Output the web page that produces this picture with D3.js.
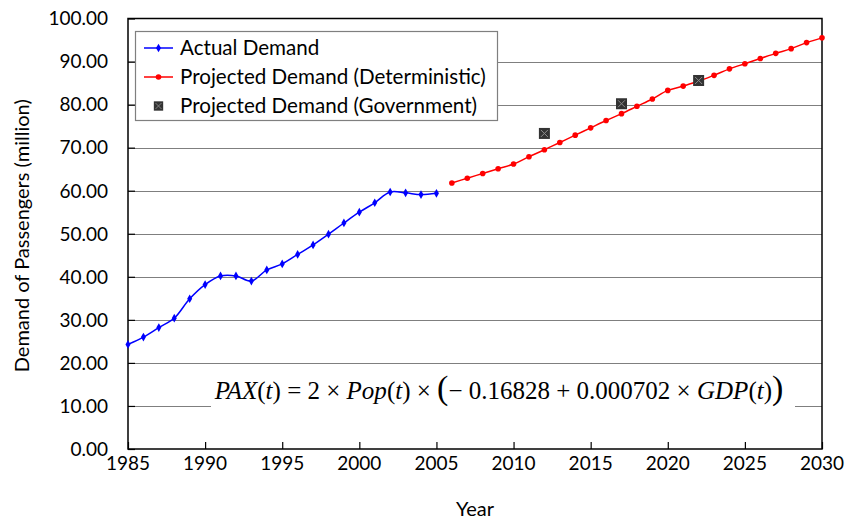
<!DOCTYPE html>
<html>
<head>
<meta charset="utf-8">
<script src="https://cdn.jsdelivr.net/npm/d3@7"></script>
<style>
  body { margin: 0; background: #fff; }
  svg { display: block; }
</style>
</head>
<body>
<div id="chart"></div>
<script>
// Data
//////////////////////////////////////////////////////////////////////
const actualYears = d3.range(1985, 2006);
const actualValues = [24.3, 26.0, 28.2, 30.4, 34.9, 38.2, 40.2, 40.2, 39.0, 41.6,
  43.0, 45.2, 47.4, 49.9, 52.5, 55.0, 57.2, 59.7, 59.5, 59.1, 59.4];

const projYears = d3.range(2006, 2031);
const projValues = [61.8, 62.9, 64.0, 65.1, 66.2, 67.9, 69.5, 71.2, 72.9, 74.6,
  76.3, 77.9, 79.6, 81.3, 83.3, 84.3, 85.5, 86.8, 88.3, 89.5,
  90.7, 91.9, 93.0, 94.4, 95.5];

const govYears = [2012, 2017, 2022];
const govValues = [73.3, 80.2, 85.6];

const xTicks = d3.range(1985, 2031, 5);
const yTicks = d3.range(0, 101, 10);

const legendLabels = ["Actual Demand", "Projected Demand (Deterministic)", "Projected Demand (Government)"];

// Layout
//////////////////////////////////////////////////////////////////////
const width = 849, height = 520;
const margin = { top: 18.5, right: 27, bottom: 71, left: 128 };
const font = "Lato, 'Open Sans', sans-serif";
const tickSize = 19;
const labelSize = 20;
const legendSize = 20.6;

const svg = d3.select("#chart").append("svg")
  .attr("width", width)
  .attr("height", height);

const x = d3.scaleLinear().domain([1985, 2030]).range([margin.left, width - margin.right]);
const y = d3.scaleLinear().domain([0, 100]).range([height - margin.bottom, margin.top]);

// gridlines (not at 0 / 100)
svg.append("g")
  .selectAll("line")
  .data(yTicks.filter(d => d > 0 && d < 100))
  .join("line")
  .attr("x1", x(1985)).attr("x2", x(2030))
  .attr("y1", d => Math.round(y(d)) + 0.5).attr("y2", d => Math.round(y(d)) + 0.5)
  .attr("stroke", "#7f7f7f")
  .attr("stroke-width", 1.2);

// equation box hides part of the 10 gridline
const eqG = svg.append("g");
eqG.append("rect")
  .attr("x", 211).attr("y", y(18))
  .attr("width", 584).attr("height", y(7) - y(18))
  .attr("fill", "#fff");

// plot frame
svg.append("rect")
  .attr("x", x(1985)).attr("y", y(100))
  .attr("width", x(2030) - x(1985)).attr("height", y(0) - y(100))
  .attr("fill", "none")
  .attr("stroke", "#000")
  .attr("stroke-width", 1.5);

// axes with inward ticks
const yAxis = svg.append("g")
  .attr("transform", `translate(${x(1985)},0)`)
  .call(d3.axisRight(y).tickValues(yTicks).tickSize(7).tickFormat(""));
yAxis.select(".domain").remove();
yAxis.selectAll("line").attr("stroke", "#000").attr("stroke-width", 1.2);

const xAxis = svg.append("g")
  .attr("transform", `translate(0,${y(0)})`)
  .call(d3.axisTop(x).tickValues(xTicks).tickSize(7).tickFormat(""));
xAxis.select(".domain").remove();
xAxis.selectAll("line").attr("stroke", "#000").attr("stroke-width", 1.2);

// tick labels
svg.append("g")
  .attr("font-family", font)
  .attr("font-size", tickSize)
  .attr("text-anchor", "end")
  .selectAll("text")
  .data(yTicks)
  .join("text")
  .attr("x", x(1985) - 20)
  .attr("y", d => y(d))
  .attr("dy", "0.36em")
  .text(d => d3.format(".2f")(d));

svg.append("g")
  .attr("font-family", font)
  .attr("font-size", tickSize)
  .attr("text-anchor", "middle")
  .selectAll("text")
  .data(xTicks)
  .join("text")
  .attr("x", d => x(d))
  .attr("y", 463)
  .attr("dy", "0.36em")
  .text(d => d);

// axis titles
svg.append("text")
  .attr("x", (x(1985) + x(2030)) / 2)
  .attr("y", 509)
  .attr("dy", "0.36em")
  .attr("text-anchor", "middle")
  .attr("font-family", font)
  .attr("font-size", labelSize)
  .text("Year");

svg.append("text")
  .attr("transform", `translate(22,${(y(0) + y(100)) / 2 + 2}) rotate(-90)`)
  .attr("dy", "0.36em")
  .attr("text-anchor", "middle")
  .attr("font-family", font)
  .attr("font-size", labelSize)
  .text("Demand of Passengers (million)");

// equation
const eq = eqG.append("text")
  .attr("x", 499)
  .attr("y", 399)
  .attr("text-anchor", "middle")
  .attr("font-family", "'Liberation Serif', 'Times New Roman', serif")
  .attr("font-size", 25);
const parts = [
  ["PAX", true], ["(", false], ["t", true], [") = 2 × ", false],
  ["Pop", true], ["(", false], ["t", true], [") × ", false],
  ["(", false, 34], ["− 0.16828 + 0.000702 × ", false],
  ["GDP", true], ["(", false], ["t", true], [")", false], [")", false, 34]
];
parts.forEach(([s, it, fs]) => {
  eq.append("tspan")
    .attr("font-style", it ? "italic" : "normal")
    .attr("font-size", fs || null)
    .text(s);
});

// lines
const line = d3.line()
  .x(d => x(d[0]))
  .y(d => y(d[1]))
  .curve(d3.curveCatmullRom.alpha(0.5));

const actual = actualYears.map((d, i) => [d, actualValues[i]]);
const proj = projYears.map((d, i) => [d, projValues[i]]);
const gov = govYears.map((d, i) => [d, govValues[i]]);

svg.append("path")
  .attr("d", line(actual))
  .attr("fill", "none")
  .attr("stroke", "#0000ff")
  .attr("stroke-width", 1.5);

svg.append("g")
  .selectAll("path")
  .data(actual)
  .join("path")
  .attr("transform", d => `translate(${x(d[0])},${y(d[1])})`)
  .attr("d", d3.symbol(d3.symbolDiamond, 22))
  .attr("fill", "#0000ff");

svg.append("path")
  .attr("d", line(proj))
  .attr("fill", "none")
  .attr("stroke", "#ff0000")
  .attr("stroke-width", 1.5);

svg.append("g")
  .selectAll("circle")
  .data(proj)
  .join("circle")
  .attr("cx", d => x(d[0]))
  .attr("cy", d => y(d[1]))
  .attr("r", 2.8)
  .attr("fill", "#ff0000");

// government markers
function govMarker(g) {
  g.append("rect")
    .attr("x", -5.5).attr("y", -5.5)
    .attr("width", 11).attr("height", 11)
    .attr("fill", "#333");
  g.append("path")
    .attr("d", "M-3.5,-3.5L3.5,3.5M3.5,-3.5L-3.5,3.5")
    .attr("stroke", "#8c8c8c")
    .attr("stroke-width", 1);
}
svg.append("g")
  .selectAll("g")
  .data(gov)
  .join("g")
  .attr("transform", d => `translate(${x(d[0])},${y(d[1])})`)
  .each(function () { govMarker(d3.select(this)); });

// legend
const legend = svg.append("g");
legend.append("rect")
  .attr("x", 135.5).attr("y", 31.5)
  .attr("width", 362).attr("height", 89)
  .attr("fill", "#fff")
  .attr("stroke", "#7f7f7f")
  .attr("stroke-width", 1.2);

const rowY = [48, 77, 106];
const colors = ["#0000ff", "#ff0000"];
legendLabels.forEach((lab, i) => {
  const g = legend.append("g").attr("transform", `translate(0,${rowY[i]})`);
  if (i < 2) {
    g.append("line")
      .attr("x1", 144).attr("x2", 173)
      .attr("stroke", colors[i]).attr("stroke-width", 1.5);
    if (i === 0) {
      g.append("path").attr("transform", "translate(158.5,0)")
        .attr("d", d3.symbol(d3.symbolDiamond, 22)).attr("fill", colors[i]);
    } else {
      g.append("circle").attr("cx", 158.5).attr("r", 2.8).attr("fill", colors[i]);
    }
  } else {
    const m = g.append("g").attr("transform", "translate(158.5,0)scale(0.85)");
    govMarker(m);
  }
  g.append("text")
    .attr("x", 180)
    .attr("dy", "0.36em")
    .attr("font-family", font)
    .attr("font-size", legendSize)
    .text(lab);
});
</script>
</body>
</html>
